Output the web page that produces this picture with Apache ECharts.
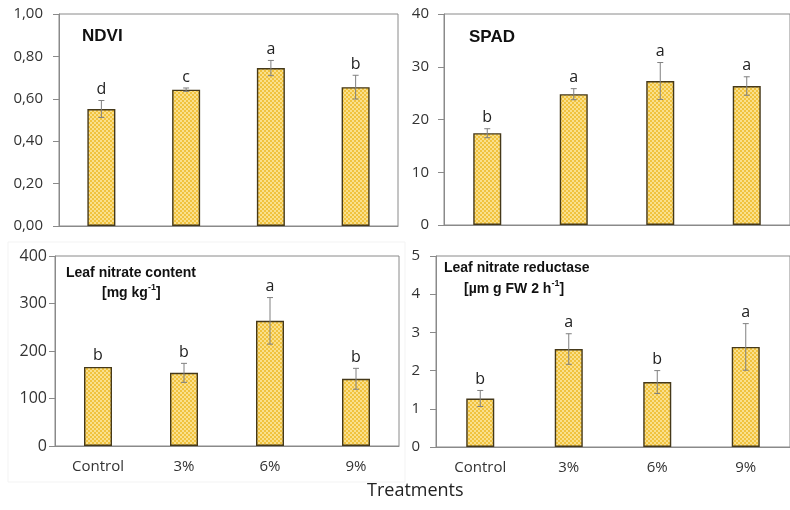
<!DOCTYPE html>
<html>
<head>
<meta charset="utf-8">
<script src="https://cdn.jsdelivr.net/npm/echarts@6/dist/echarts.min.js"></script>
<style>
html,body{margin:0;padding:0;background:#fff;}
#chart{width:790px;height:510px;}
</style>
</head>
<body>
<div id="chart"></div>
<script>
// ---- data ----
const categories = ['Control', '3%', '6%', '9%'];

const ndviValues = [0.552, 0.643, 0.745, 0.655];
const ndviErrors = [0.040, 0.008, 0.036, 0.056];
const ndviLetters = ['d', 'c', 'a', 'b'];
const ndviTicks = { min: 0, max: 1, interval: 0.2 };

const spadValues = [17.4, 24.8, 27.3, 26.35];
const spadErrors = [0.85, 1.05, 3.5, 1.75];
const spadLetters = ['b', 'a', 'a', 'a'];
const spadTicks = { min: 0, max: 40, interval: 10 };

const nitrateValues = [166.5, 154, 263.5, 141.5];
const nitrateErrors = [0, 20, 49, 22];
const nitrateLetters = ['b', 'b', 'a', 'b'];
const nitrateTicks = { min: 0, max: 400, interval: 100 };

const reductaseValues = [1.27, 2.565, 1.70, 2.62];
const reductaseErrors = [0.21, 0.40, 0.30, 0.61];
const reductaseLetters = ['b', 'a', 'b', 'a'];
const reductaseTicks = { min: 0, max: 5, interval: 1 };

const xAxisTitle = 'Treatments';

// ---- styling ----
const FONT = '"Open Sans", "DejaVu Sans", sans-serif';
const TITLE_FONT = '"Liberation Sans", Arial, sans-serif';
const AXIS_COLOR = '#8a8a8a';

// checkered yellow fill
const pat = document.createElement('canvas');
pat.width = 4; pat.height = 4;
const pctx = pat.getContext('2d');
pctx.fillStyle = '#F0C23E';
pctx.fillRect(0, 0, 4, 4);
pctx.fillStyle = '#FAE08C';
pctx.fillRect(0, 0, 2, 2);
pctx.fillRect(2, 2, 2, 2);

const grids = [
  { left: 59, top: 14, width: 339, height: 212 },
  { left: 444, top: 14, width: 353, height: 211 },
  { left: 55, top: 256, width: 344, height: 190 },
  { left: 436, top: 256, width: 362, height: 191 }
];
const labelMargins = [16, 15, 8, 16];
const labelSizes = [15, 15, 16, 15];

const panels = [
  { values: ndviValues, errors: ndviErrors, letters: ndviLetters, ticks: ndviTicks, fmt: v => v.toFixed(2).replace('.', ','), showX: false },
  { values: spadValues, errors: spadErrors, letters: spadLetters, ticks: spadTicks, fmt: v => String(v), showX: false },
  { values: nitrateValues, errors: nitrateErrors, letters: nitrateLetters, ticks: nitrateTicks, fmt: v => String(v), showX: true },
  { values: reductaseValues, errors: reductaseErrors, letters: reductaseLetters, ticks: reductaseTicks, fmt: v => String(v), showX: true }
];

const subRich = {
  a: { fontSize: 14, fontWeight: 'bold', fontFamily: TITLE_FONT, fill: '#111', lineHeight: 17, verticalAlign: 'bottom' },
  s: { fontSize: 9, fontWeight: 'bold', fontFamily: TITLE_FONT, fill: '#111', lineHeight: 17, verticalAlign: 'top' }
};

const option = {
  animation: false,
  backgroundColor: '#ffffff',
  grid: grids.map(g => Object.assign({ show: true, borderColor: AXIS_COLOR, borderWidth: 1, backgroundColor: 'transparent' }, g)),
  xAxis: panels.map((p, i) => ({
    type: 'category',
    gridIndex: i,
    data: categories,
    axisLine: { show: true, lineStyle: { color: AXIS_COLOR, width: 1 } },
    axisTick: { show: false },
    axisLabel: { show: p.showX, margin: 13, fontSize: 15, fontFamily: FONT, color: '#333' },
    splitLine: { show: false }
  })),
  yAxis: panels.map((p, i) => ({
    type: 'value',
    gridIndex: i,
    min: p.ticks.min,
    max: p.ticks.max,
    interval: p.ticks.interval,
    axisLine: { show: true, lineStyle: { color: AXIS_COLOR, width: 1 } },
    axisTick: { show: true, length: 6, lineStyle: { color: AXIS_COLOR } },
    axisLabel: { margin: labelMargins[i], fontSize: labelSizes[i], fontFamily: FONT, color: '#333', formatter: p.fmt },
    splitLine: { show: false }
  })),
  series: [],
  graphic: [
    { type: 'rect', shape: { x: 8, y: 242, width: 397, height: 240 }, style: { fill: 'none', stroke: '#f3f3f3', lineWidth: 1 }, silent: true, z: -1 },
    { type: 'text', left: 82, top: 28, style: { text: 'NDVI', font: 'bold 17px ' + TITLE_FONT, fill: '#111' } },
    { type: 'text', left: 469, top: 29, style: { text: 'SPAD', font: 'bold 17px ' + TITLE_FONT, fill: '#111' } },
    { type: 'text', left: 66, top: 266, style: { text: 'Leaf nitrate content', font: 'bold 14px ' + TITLE_FONT, fill: '#111' } },
    { type: 'text', left: 102, top: 283, style: { text: '{a|[mg kg}{s|-1}{a|]}', rich: subRich } },
    { type: 'text', left: 444, top: 261, style: { text: 'Leaf nitrate reductase', font: 'bold 14px ' + TITLE_FONT, fill: '#111' } },
    { type: 'text', left: 464, top: 279, style: { text: '{a|[µm g FW 2 h}{s|-1}{a|]}', rich: subRich } },
    { type: 'text', left: 367, top: 482, style: { text: xAxisTitle, font: '18px ' + FONT, fill: '#222' } }
  ]
};

panels.forEach((p, i) => {
  option.series.push({
    type: 'bar',
    xAxisIndex: i,
    yAxisIndex: i,
    data: p.values,
    barWidth: 28,
    itemStyle: { color: { image: pat, repeat: 'repeat' }, borderColor: '#45391a', borderWidth: 1.4 },
    z: 2
  });
  option.series.push({
    type: 'custom',
    xAxisIndex: i,
    yAxisIndex: i,
    z: 3,
    data: p.values.map((v, k) => [k, v, p.errors[k]]),
    renderItem: function (params, api) {
      const k = api.value(0), v = api.value(1), e = api.value(2);
      const top = api.coord([k, v + e]);
      const bot = api.coord([k, v - e]);
      const children = [];
      if (e > 0) {
        const ls = { stroke: '#808080', lineWidth: 1 };
        children.push({ type: 'line', shape: { x1: top[0], y1: top[1], x2: bot[0], y2: bot[1] }, style: ls });
        children.push({ type: 'line', shape: { x1: top[0] - 3, y1: top[1], x2: top[0] + 3, y2: top[1] }, style: ls });
        children.push({ type: 'line', shape: { x1: bot[0] - 3, y1: bot[1], x2: bot[0] + 3, y2: bot[1] }, style: ls });
      }
      children.push({ type: 'text', style: {
        text: p.letters[params.dataIndex], x: top[0], y: top[1] - 3,
        align: 'center', verticalAlign: 'bottom',
        font: '16px ' + FONT, fill: '#222'
      } });
      return { type: 'group', children: children };
    }
  });
});

const chart = echarts.init(document.getElementById('chart'), null, { renderer: 'canvas' });
chart.setOption(option);
</script>
</body>
</html>
